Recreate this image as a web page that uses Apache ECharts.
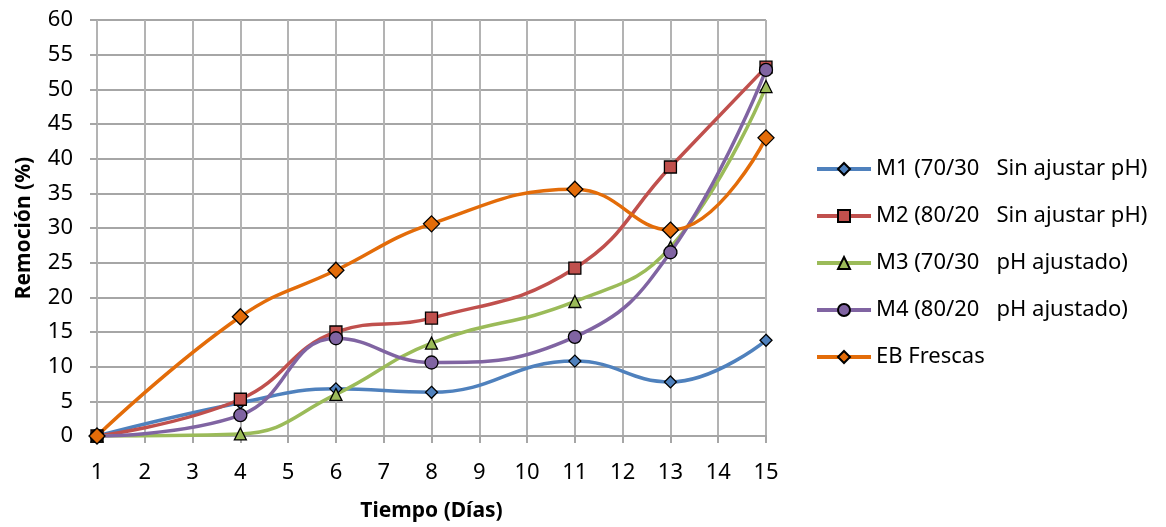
<!DOCTYPE html>
<html>
<head>
<meta charset="utf-8">
<script src="https://cdn.jsdelivr.net/npm/echarts@6/dist/echarts.min.js"></script>
<style>
  html, body { margin: 0; padding: 0; background: #fff; }
  #chart { width: 1166px; height: 527px; }
</style>
</head>
<body>
<div id="chart"></div>
<script>
// Sampling days (x) and removal percentages per mixture
const days = [1, 4, 6, 8, 11, 13, 15];
const m1 = [0, 4.8, 6.8, 6.3, 10.8, 7.8, 13.8];
const m2 = [0, 5.3, 15.0, 17.0, 24.2, 38.8, 53.2];
const m3 = [0, 0.3, 6.0, 13.4, 19.4, 27.2, 50.4];
const m4 = [0, 3.0, 14.1, 10.6, 14.3, 26.5, 52.8];
const eb = [0, 17.2, 23.9, 30.6, 35.6, 29.7, 43.0];

const seriesNames = [
  'M1 (70/30   Sin ajustar pH)',
  'M2 (80/20   Sin ajustar pH)',
  'M3 (70/30   pH ajustado)',
  'M4 (80/20   pH ajustado)',
  'EB Frescas'
];

const FONT = '"Noto Sans", "Open Sans", sans-serif';

function pairs(values) {
  return days.map((d, i) => [d, values[i]]);
}

function lineSeries(name, values, color, symbol, size) {
  return {
    name: name,
    type: 'line',
    data: pairs(values),
    smooth: 0.45,
    symbol: symbol,
    symbolSize: size,
    lineStyle: { color: color, width: 3.5 },
    itemStyle: { color: color, borderColor: '#000', borderWidth: 1.3 },
    emphasis: { disabled: true }
  };
}

const chart = echarts.init(document.getElementById('chart'), null, { renderer: 'canvas' });

chart.setOption({
  animation: false,
  backgroundColor: '#fff',
  textStyle: { fontFamily: FONT },
  grid: { left: 97, right: 400, top: 20, bottom: 88, containLabel: false },
  xAxis: {
    type: 'value',
    min: 1,
    max: 15,
    interval: 1,
    name: 'Tiempo (Días)',
    nameLocation: 'middle',
    nameGap: 65,
    nameTextStyle: { fontFamily: FONT, fontSize: 21, fontWeight: 'bold', color: '#000' },
    axisLine: { show: true, lineStyle: { color: '#a6a6a6', width: 2 } },
    axisTick: { show: true, length: 7, lineStyle: { color: '#a6a6a6', width: 2 } },
    axisLabel: { fontFamily: FONT, fontSize: 22, color: '#000', margin: 26 },
    splitLine: { show: true, lineStyle: { color: '#b3b3b3', width: 2 } }
  },
  yAxis: {
    type: 'value',
    min: 0,
    max: 60,
    interval: 5,
    name: 'Remoción (%)',
    nameLocation: 'middle',
    nameGap: 62,
    nameRotate: 90,
    nameTextStyle: { fontFamily: FONT, fontSize: 21, fontWeight: 'bold', color: '#000' },
    axisLine: { show: false },
    axisTick: { show: true, length: 7, lineStyle: { color: '#a6a6a6', width: 2 } },
    axisLabel: { fontFamily: FONT, fontSize: 22, color: '#000', margin: 24 },
    splitLine: { show: true, lineStyle: { color: '#a6a6a6', width: 2 } }
  },
  legend: {
    orient: 'vertical',
    left: 810,
    top: 153,
    itemWidth: 54,
    itemHeight: 15,
    itemGap: 25,
    lineStyle: { width: 4 },
    textStyle: { fontFamily: FONT, fontSize: 22, color: '#000' },
    data: seriesNames
  },
  series: [
    lineSeries(seriesNames[0], m1, '#4F81BD', 'diamond', 12),
    lineSeries(seriesNames[1], m2, '#C0504D', 'rect', 12),
    lineSeries(seriesNames[2], m3, '#9BBB59', 'triangle', 12),
    lineSeries(seriesNames[3], m4, '#8064A2', 'circle', 13),
    lineSeries(seriesNames[4], eb, '#E36C09', 'diamond', 16)
  ]
});
</script>
</body>
</html>
